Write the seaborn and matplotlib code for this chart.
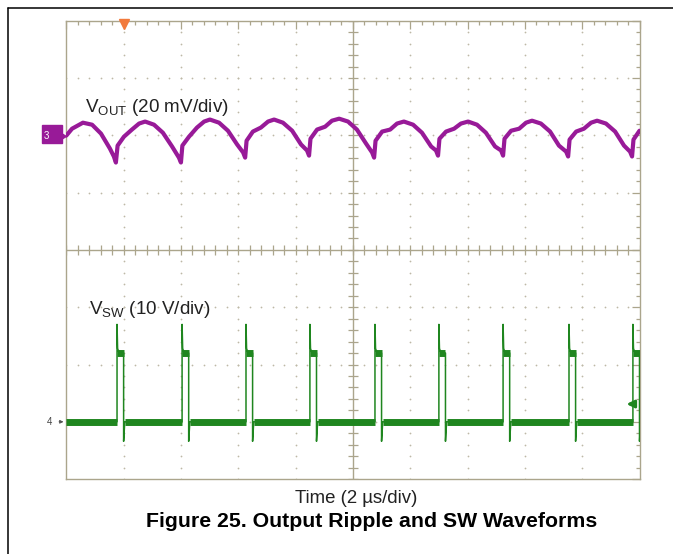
import numpy as np
import pandas as pd
import matplotlib.pyplot as plt
import seaborn as sns
from matplotlib.lines import Line2D
from matplotlib.patches import Rectangle, Polygon

# Leituras do osciloscopio (tempo em us, Vout em mV relativo a referencia do canal 3)
vout_t_us = [0.00, 0.20, 0.58, 0.90, 1.21, 1.52, 1.66, 1.73,
             1.79, 2.01, 2.29, 2.54, 2.75, 3.06, 3.37, 3.69, 3.93, 4.00,
             4.05, 4.28, 4.56, 4.81, 5.01, 5.33, 5.64, 5.96, 6.17, 6.24,
             6.29, 6.51, 6.79, 7.04, 7.25, 7.56, 7.88, 8.19, 8.40, 8.47,
             8.52, 8.75, 9.03, 9.27, 9.52, 9.83, 10.14, 10.46, 10.67, 10.74,
             10.79, 11.02, 11.30, 11.54, 11.78, 12.10, 12.41, 12.73, 12.90, 12.97,
             13.02, 13.25, 13.53, 13.77, 14.02, 14.33, 14.64, 14.96, 15.17, 15.24,
             15.29, 15.52, 15.80, 16.04, 16.25, 16.56, 16.88, 17.19, 17.44, 17.51,
             17.56, 17.79, 18.06, 18.31, 18.52, 18.83, 19.15, 19.46, 19.67, 19.74,
             19.79, 20.00]
vout_mv = [-0.1, 2.3, 4.4, 3.7, 0.6, -4.6, -7.4, -9.5,
           -3.6, -0.5, 2.0, 4.1, 4.8, 3.7, 0.9, -3.9, -7.8, -9.5,
           -3.6, -0.5, 2.7, 4.8, 5.5, 4.4, 1.6, -3.2, -6.0, -7.8,
           -1.9, 1.3, 2.7, 4.8, 5.5, 4.4, 1.6, -3.2, -5.3, -7.1,
           -1.2, 2.0, 3.0, 5.1, 5.8, 4.8, 2.0, -2.9, -6.0, -7.8,
           -1.9, 1.3, 2.0, 4.1, 4.8, 3.7, 0.9, -3.9, -5.3, -7.1,
           -1.2, 1.3, 2.3, 4.1, 4.8, 3.7, 0.9, -3.9, -5.3, -7.1,
           -1.2, 1.6, 2.3, 4.4, 5.1, 4.1, 1.3, -3.6, -5.7, -7.4,
           -1.5, 1.3, 2.3, 4.4, 5.1, 4.1, 1.3, -3.6, -5.7, -7.4,
           -1.5, 1.6]

# no de chaveamento
sw_rise_us = [1.77, 4.04, 6.27, 8.50, 10.77, 13.00, 15.24, 17.54, 19.77]
sw_width_us = 0.23
sw_high_v = 12.0
sw_spike_v = 17.0
sw_under_v = -3.4

vout_scale = 20.0   # mV/div
sw_scale = 10.0     # V/div
vout_ref = 2.0      # div
sw_ref = -3.0       # div
trig_t = 2.0
trig_level_v = 3.1

roxo = "#981a98"
verde = "#1f861f"
cor_grade = "#aba58c"

sns.set_style("white")
plt.rcParams["font.family"] = ["Liberation Sans", "DejaVu Sans"]
plt.rcParams["mathtext.fontset"] = "custom"
plt.rcParams["mathtext.rm"] = "Liberation Sans"
plt.rcParams["mathtext.it"] = "Liberation Sans:italic"
plt.rcParams["mathtext.bf"] = "Liberation Sans:bold"

fig = plt.figure(figsize=(6.73, 5.54), dpi=100)
ax = fig.add_axes([66.3 / 673, 1 - 479.1 / 554, 573.2 / 673, 458.4 / 554])

# grade do osciloscopio
ax.set_xlim(0, 20)
ax.set_ylim(-4, 4)
ax.set_xticks(np.arange(0, 20.1, 2))
ax.set_xticks(np.arange(0, 20.1, 0.4), minor=True)
ax.set_yticks(np.arange(-4, 4.1, 1))
ax.set_yticks(np.arange(-4, 4.1, 0.2), minor=True)
ax.tick_params(which="both", direction="in", top=True, right=True,
               labelbottom=False, labelleft=False, color=cor_grade, width=0.9)
ax.tick_params(which="major", length=6)
ax.tick_params(which="minor", length=3.2)
for s in ax.spines.values():
    s.set_color(cor_grade)
    s.set_linewidth(1.0)

xs_min = np.arange(0, 20.01, 0.4)
ys_min = np.arange(-4, 4.01, 0.2)
for xm in [2, 4, 6, 8, 12, 14, 16, 18]:
    ax.scatter(np.full(len(ys_min), xm), ys_min, s=1.6, color="#bdb8a6", lw=0, zorder=1)
for ym in [-3, -2, -1, 1, 2, 3]:
    ax.scatter(xs_min, np.full(len(xs_min), ym), s=1.6, color="#bdb8a6", lw=0, zorder=1)
ax.axvline(10, color=cor_grade, lw=1.0, zorder=1)
ax.axhline(0, color=cor_grade, lw=1.0, zorder=1)
ax.plot(xs_min, np.zeros(len(xs_min)), ls="none", marker="|", ms=7, mew=0.9, color=cor_grade, zorder=1)
ax.plot(np.full(len(ys_min), 10), ys_min, ls="none", marker="_", ms=7, mew=0.9, color=cor_grade, zorder=1)

# Vout
df_vout = pd.DataFrame({"t": vout_t_us, "div": vout_ref + np.array(vout_mv) / vout_scale})
sns.lineplot(data=df_vout, x="t", y="div", sort=False, estimator=None,
             color=roxo, lw=3.0, ax=ax, zorder=3)

# SW: bordas finas
t_fino, v_fino = [], []
for r in sw_rise_us:
    f = r + sw_width_us
    t_fino += [r, r, r + 0.02, r + 0.06, f, f, f + 0.04]
    v_fino += [0, sw_spike_v, sw_high_v + 0.8, sw_high_v + 0.2, sw_high_v, sw_under_v, 0]
df_fino = pd.DataFrame({"t": t_fino, "div": sw_ref + np.array(v_fino) / sw_scale})
sns.lineplot(data=df_fino, x="t", y="div", sort=False, estimator=None,
             color=verde, lw=1.1, ax=ax, zorder=3)

# SW: faixas de ruido (nivel baixo e plato)
seg, t_g, v_g = [], [], []
inicio = 0.0
for i, r in enumerate(sw_rise_us):
    seg += [2 * i, 2 * i]
    t_g += [inicio, r]
    v_g += [0, 0]
    seg += [2 * i + 1, 2 * i + 1]
    t_g += [r, r + sw_width_us]
    v_g += [sw_high_v, sw_high_v]
    inicio = r + sw_width_us + 0.05
df_g = pd.DataFrame({"seg": seg, "t": t_g, "div": sw_ref + np.array(v_g) / sw_scale})
sns.lineplot(data=df_g, x="t", y="div", units="seg", sort=False, estimator=None,
             color=verde, lw=5, solid_capstyle="butt", ax=ax, zorder=3)

# marcadores de canal e gatilho
ax.add_patch(Rectangle((-0.86, vout_ref - 0.13), 0.72, 0.31, color=roxo,
                       clip_on=False, zorder=4))
ax.add_patch(Polygon([(-0.16, vout_ref - 0.07), (0, vout_ref - 0.02), (-0.16, vout_ref + 0.03)],
                     closed=True, color=roxo, clip_on=False, zorder=4))
ax.text(-0.68, vout_ref - 0.02, "3", color="white", fontsize=7, va="center", ha="center", zorder=5)
ax.text(-0.57, sw_ref, "4", color="#444444", fontsize=7, va="center", ha="center")
ax.annotate("", xy=(0, sw_ref), xytext=(-0.35, sw_ref), annotation_clip=False,
            arrowprops=dict(arrowstyle="-|>", color="#555555", lw=0.7, mutation_scale=5))
ax.annotate("", xy=(19.45, sw_ref + trig_level_v / sw_scale),
            xytext=(19.95, sw_ref + trig_level_v / sw_scale),
            arrowprops=dict(arrowstyle="-|>", color=verde, lw=2.0, mutation_scale=11))
ax.plot([trig_t], [3.94], marker="v", ms=6.5, color="#f27a3c", clip_on=False, zorder=5)

# rotulos
ax.text(0.65, 2.41, r"V$_{\mathrm{OUT}}$ (20 mV/div)", fontsize=13.6, color="#222222", va="baseline")
ax.text(0.80, -1.12, r"V$_{\mathrm{SW}}$ (10 V/div)", fontsize=13.6, color="#222222", va="baseline")
fig.text(356 / 673, 1 - 503.3 / 554, "Time (2 µs/div)", fontsize=13.4, color="#222222",
         ha="center", va="baseline")
fig.text(371.5 / 673, 1 - 526.7 / 554, "Figure 25. Output Ripple and SW Waveforms",
         fontsize=15.3, fontweight="bold", color="black", ha="center", va="baseline")

# moldura da pagina
fig.add_artist(Line2D([8 / 673, 1], [1 - 8 / 554, 1 - 8 / 554], color="black", lw=1.1))
fig.add_artist(Line2D([8 / 673, 8 / 673], [0, 1 - 8 / 554], color="black", lw=1.1))

ax.set_xlabel("")
ax.set_ylabel("")
fig.savefig("out.png", dpi=100)
